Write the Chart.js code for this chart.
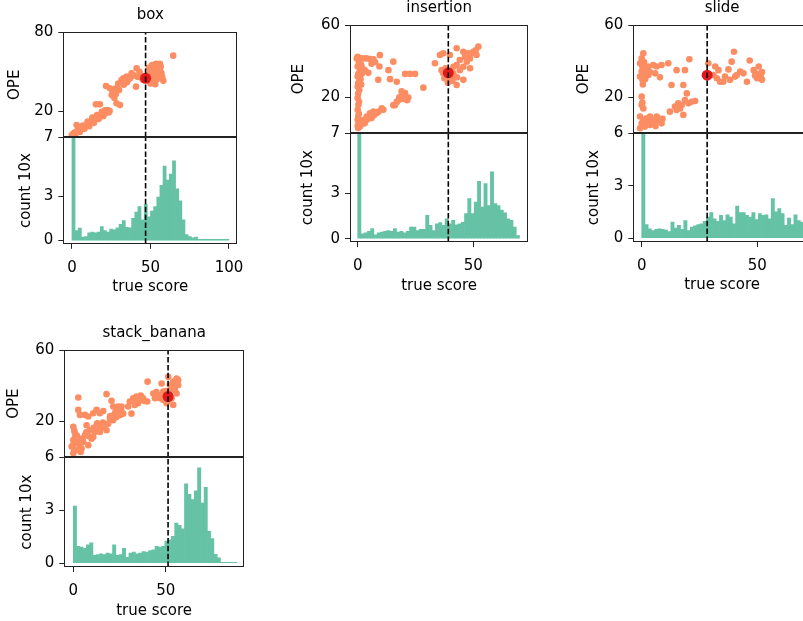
<!DOCTYPE html>
<html><head><meta charset="utf-8">
<script src="https://cdn.jsdelivr.net/npm/chart.js@4.4.1/dist/chart.umd.min.js"></script>
<style>
html,body{margin:0;padding:0;background:#fff;}
#wrap{position:relative;width:803px;height:621px;overflow:hidden;background:#fff;}
canvas{position:absolute;}
</style></head><body><div id="wrap"></div>
<script>
// ---------------- DATA ----------------
const panelTitles = ['box', 'insertion', 'slide', 'stack_banana'];

// scatter points [true score, OPE]
const boxPoints = [[0,1.5],[0.5,2.5],[1,2],[1.5,3.5],[2,3],[2.5,4],[3,4.5],[3.5,4],[4,5],[4.5,5.5],[5,6],[5.5,5.5],[6,6.5],[6.5,7],[7,7.5],[7.5,7],[8,8.5],[8.5,8],[9,9],[9.5,9.5],[10,10],[10.5,9.5],[11,10.5],[11.5,11],[12,11.5],[12.5,12],[13,12.5],[13.5,13],[14,12.5],[14.5,13.5],[15,14],[15.5,14.5],[16,15],[16.5,14.5],[17,15.5],[17.5,16],[18,16.5],[18.5,17],[19,17.5],[19.5,17],[20,18],[20.5,18.5],[21,19],[21.5,18.5],[22,19.5],[22.5,20],[23,20.5],[24,20],[23.5,19],
[5,4],[8,6.5],[11,8.5],[14,11],[17,14],[20,16],[7,9],[10,12],[13,15],[16,17],[19,19.5],[21,20.5],[3,9.3],[1,1],[2,1.5],
[15.3,25.1],[17.8,25.1],[25.3,32.2],[21.7,39],[24.2,37.3],[28.4,25.9],[30.6,24.6],[27,30],[29.5,41],[31.6,43.7],[32.7,45],[34.8,46.2],[36,44],[38,48.8],[39.5,47],[41.2,52.6],[40.8,38.6],[43,50],[44,47],[26,35],[28,33],[30,36],[33,40],[35,42],[37,45],[42,46],[45,44],[29,38],[27.5,37],
[48.6,45],[49,48],[50,50],[50.5,43],[51,52],[51.5,47],[52,54],[52.5,49],[53,51],[53.5,56],[54,53],[54.5,48],[55,55],[55.5,50],[56,52],[56.5,54],[57,49],[57.5,46],[58.2,43],[50,41],[52,45],[54,44],[55,46],[53,40.5],[49,53],[51,55],[56,56],[64.5,62.2],[53,47],[55,51],[52,51],[54,50]];
const insertionPoints = [[0,42.4],[-0.4,41.5],[1,41.5],[2.5,41.5],[3.9,41.5],[5.3,41.2],[6.8,41],[9.6,43.3],[0.5,39],[0,37],[1,35],[0.3,33],[0,31.4],[0.8,29.5],[0.2,27.7],[0,25.8],[0.7,24],[0.2,22],[0,19.5],[0.6,17.5],[0.3,15.8],[0,13],[0.5,11],[0.2,9.3],[0,7.5],[0.4,5.6],[0,4],[0.2,2.9],[1.5,38],[2,36],[1.8,33],[1.2,30],[1.5,27],[9.4,37],[4.6,33.5],[3,35],[15.4,39.7],[13.3,35],[14,30],[16.9,28.6],[20.5,32.9],[22.6,32.9],[24.8,32.9],[8.9,29.6],[28.4,25.3],[6,38.5],[7.5,39.5],
[1,3.7],[2.5,7.4],[3.9,9.3],[5.3,11.1],[6.8,12],[8.2,11.1],[10.4,13.9],[11.1,13],[2,6],[3,5.5],[4.5,8],[5.8,9.5],[7,10],[1.5,5],[3.5,7],[6,8.5],[9,12],
[15.4,15.6],[16.9,17.4],[18.3,19.2],[19.7,21.1],[20.5,22.3],[21.4,18.3],[21.9,19.8],[17.6,18.3],[16.1,15.6],[19,23.2],[18,20],[20,19],
[35.6,43.4],[33.4,38.8],[37,44.3],[39.9,43.4],[42.8,47.1],[45.7,45.2],[47.8,44.3],[50,45.2],[52.2,48],[51.4,43.4],[44.2,40.6],[47.2,39.7],[48.6,36],[45.7,36.9],[42.8,37.8],[41.4,33.2],[37,33.2],[36.3,35],[39.9,30.5],[42.8,26.8],[45.7,29.6],[41.4,36.9],[44.2,35],[48.6,41.5],[46.4,42.4],[38,36],[40.5,31],[43,31],[39,28],[37.5,30.5],[41,29],[49.5,44.5],[51,46]];
const slidePoints = [[0.7,44.3],[0,41.5],[-0.7,38.8],[0.3,37],[0,34.2],[-0.7,31.4],[0.3,29.6],[1.4,33.2],[2.9,37],[5,37.8],[6.5,37],[8.6,37.8],[2.9,32.3],[5.8,33.2],[7.9,31],[11.5,38.8],[15.1,35],[18.7,35],[20.6,41],[12.9,26.8],[18,26.8],[19.5,22.1],[1,36],[1.5,30],[0.5,27],[2,35],[3.5,34],[1,39.5],
[0,20.3],[0,15.7],[0.7,13.8],[-0.7,9.3],[0,5.5],[-0.7,2.8],[0.3,17],
[0.7,7.4],[2.2,8.3],[3.6,9.3],[5,7.4],[6.5,9.3],[7.9,7.4],[8.6,5.5],[3.6,4.6],[1.4,3.7],[5.8,5.5],[7.2,8.3],[2.5,6],[4.5,6.5],[6,4],[9,8],
[12.2,12],[14.4,14.8],[15.8,16.6],[17.3,15.7],[18.7,18.4],[20.2,16.6],[21.6,17.5],[23.1,17.9],[18,10.2],[15.1,12.9],[16.6,13.8],
[28.8,38.8],[31,32.3],[33.2,35],[33.9,28.6],[36,31.4],[37.5,35.4],[38.2,29.6],[38.9,39.7],[39.9,45.2],[40.4,31.4],[42.6,34.2],[44,33.2],[45.5,28.6],[46.7,40.3],[48.4,35],[49.9,30.5],[51.3,32.3],[50.6,37],[52,29.6],[32.5,30.5],[35.3,28.6],[41.1,32.3],[31.8,37],[50,33],[51.5,31],[49,32],[52,34]];
const stackPoints = [[2.7,33.4],[0,17.1],[0.9,13.4],[0,9.7],[-0.9,6],[0,2.3],[1.8,4.1],[0.5,15],[1,11],[0,7],[0.5,4],
[2.7,26.5],[3.6,23.7],[6.3,23.7],[8.1,22.8],[10.8,24.6],[12.6,26.5],[14.4,24.6],[16.2,25.9],[18,35.3],[20.7,31.6],[21.6,28.4],[24.3,28.4],[26.1,28.4],
[3.6,6.8],[5.4,8.6],[6.3,12.3],[7.2,17.9],[9,15.1],[9.9,10.4],[11.7,14.2],[13.5,16],[15.3,17],[17.1,17.9],[18.9,18.8],[19.8,21.6],[21.6,20.7],[23.4,22.5],[25.2,23.5],[27,24.4],[24.3,25.3],[22.5,24.4],[18,15.1],[14.4,14.2],[10.8,11.4],[8.1,6.8],[4.5,4.9],[2.7,8.6],[12.6,17.9],[2,12],[3,10],[5,10.5],[7,14],[8,12],[11,16.5],[13,19],[16,19.5],[20,23],[23,26],[26,26],[1.5,8],[4,3],
[29.7,28.4],[30.6,31.2],[32.4,33],[34.2,34],[36,32.1],[37.8,33],[40,31.2],[31.5,24.4],[33.3,29.3],[35.1,30.2],[40.2,42.3],[33,31],[36.5,34.5],[38.5,31.5],
[43.3,35.7],[46,34.8],[47.8,41.3],[48.7,32.1],[51.4,45],[52.3,40.4],[54.1,42.3],[55.9,44.1],[56.8,40.4],[55,37.6],[53.2,33],[54.1,29.3],[50.5,30.2],[46.9,33],[56.8,43.2],[55.9,35.7],[44.2,33],[48.7,36.7],[50,37],[52,36],[53,38.5],[49,34],[45,36.5],[54.5,39.5],[51.5,32]];

// mean marker [true score, OPE]
const boxMarker = [46.9, 45];
const insertionMarker = [39.2, 33.5];
const slideMarker = [28.3, 32.2];
const stackMarker = [51.3, 34];

// histogram counts (x10) and their true-score ranges
const boxHist = [9,0.68,0.84,0.23,0.27,0.52,0.57,0.52,0.57,0.95,0.68,0.57,0.77,0.73,0.86,1.1,1.36,0.9,0.86,1.5,1.93,2.3,1.4,2.45,1.6,2.0,2.3,2.95,3.75,5.05,4.1,4.5,5.4,3.5,2.7,1.4,0.4,0.27,0.18,0.23,0.08,0.08,0.08,0.08,0.08,0.08,0.08,0.08,0.08,0.08];
const insertionHist = [8,0.33,0.4,0.5,0.67,0.27,0.4,0.44,0.5,0.55,0.5,0.67,0.44,0.5,0.4,0.5,0.78,0.78,0.55,0.62,0.62,1.55,0.9,0.55,1.0,1.07,0.9,1.33,1.0,1.22,0.93,1.0,1.1,1.67,2.67,1.67,2.44,3.82,2.1,3.67,2.2,4.44,2.33,2.2,1.9,1.73,1.33,1.22,0.78,0.22];
const slideHist = [10,0.77,0.54,0.44,0.5,0.54,0.5,0.46,0.38,0.92,0.57,0.73,0.5,1.0,0.44,0.63,0.7,0.77,0.82,0.96,1.2,1.46,1.11,0.96,1.3,1.0,1.34,1.2,0.82,1.84,1.46,1.46,1.3,1.2,1.46,1.07,1.4,1.3,1.34,1.11,2.26,1.5,1.69,1.4,0.73,1.15,0.77,1.34,1.0,0.92];
const stackHist = [3.23,0.95,0.91,0.85,1.04,1.16,0.44,0.49,0.53,0.49,0.57,0.53,1.04,0.44,0.49,0.85,0.34,0.57,0.63,0.53,0.57,0.66,0.63,0.72,0.76,0.95,0.91,0.95,1.25,1.33,1.52,2.28,2.14,1.95,4.5,3.9,3.6,4.1,5.4,3.4,4.3,1.8,1.4,0.5,0.3,0.05,0.05,0.05,0.05,0.05];
const boxHistRange = [0, 100];
const insertionHistRange = [0, 70];
const slideHistRange = [0, 70];
const stackHistRange = [0, 88.5];

// tick labels
const boxTopTicks = [20, 80];
const otherTopTicks = [20, 60];
const boxBotTicks = [0, 3, 7];
const insertionBotTicks = [0, 3, 7];
const sixBotTicks = [0, 3, 6];
const boxXTicks = [0, 50, 100];
const otherXTicks = [0, 50];

// ---------------- LAYOUT ----------------
const panels = [
  {title: panelTitles[0], points: boxPoints, marker: boxMarker, hist: boxHist, range: boxHistRange,
   topTicks: boxTopTicks, botTicks: boxBotTicks, xTicks: boxXTicks,
   yTop: [0, 80], yBot: [-0.22, 7], x: [-5.5, 105.3],
   L: 63.3, R: 237.3, T: 32.3, M: 137.3, B: 243.3, opeX: 15, cntX: 25.7},
  {title: panelTitles[1], points: insertionPoints, marker: insertionMarker, hist: insertionHist, range: insertionHistRange,
   topTicks: otherTopTicks, botTicks: insertionBotTicks, xTicks: otherXTicks,
   yTop: [0, 60], yBot: [-0.22, 7], x: [-3.33, 73.8],
   L: 350, R: 528.3, T: 25, M: 133.3, B: 241.6, opeX: 299.5, cntX: 308.3},
  {title: panelTitles[2], points: slidePoints, marker: slideMarker, hist: slideHist, range: slideHistRange,
   topTicks: otherTopTicks, botTicks: sixBotTicks, xTicks: otherXTicks,
   yTop: [0, 60], yBot: [-0.22, 6], x: [-3.63, 73.2],
   L: 633.3, R: 811, T: 25, M: 133.3, B: 241.5, opeX: 583.7, cntX: 594.3},
  {title: panelTitles[3], points: stackPoints, marker: stackMarker, hist: stackHist, range: stackHistRange,
   topTicks: otherTopTicks, botTicks: sixBotTicks, xTicks: otherXTicks,
   yTop: [0, 60], yBot: [-0.22, 6], x: [-4.87, 92.4],
   L: 64.3, R: 244, T: 350, M: 457.3, B: 566.6, opeX: 14, cntX: 26.7}
];

Chart.defaults.font.family = "'DejaVu Sans', sans-serif";
Chart.defaults.font.size = 15;
Chart.defaults.color = '#000';

const framePlugin = {
  id: 'frame',
  afterDatasetsDraw(chart) {
    const {ctx, chartArea: a} = chart;
    ctx.save();
    ctx.strokeStyle = '#222';
    ctx.lineWidth = 1;
    const l = Math.round(a.left) + 0.5, r = Math.round(a.right) - 0.5;
    const t = Math.round(a.top) + 0.5, b = Math.round(a.bottom) - 0.5;
    ctx.strokeRect(l, t, r - l, b - t);
    ctx.restore();
  }
};

function makeCanvas(left, top, w, h) {
  const c = document.createElement('canvas');
  c.width = w; c.height = h;
  c.style.left = left + 'px'; c.style.top = top + 'px';
  c.style.width = w + 'px'; c.style.height = h + 'px';
  document.getElementById('wrap').appendChild(c);
  return c;
}

const gridOpts = {drawOnChartArea: false, drawTicks: true, tickLength: 5, color: '#222', lineWidth: 1};

function buildPanel(p) {
  const cl = Math.floor(p.L - 62);
  const xv = p.marker[0];
  const dash = {type: 'line', borderColor: '#000', borderWidth: 1.6, borderDash: [5.5, 2.4],
                pointRadius: 0, fill: false, order: 0, clip: 0};

  // ---- scatter (top) ----
  const sTop = Math.floor(p.T - 29.7);
  const sBot = Math.ceil(p.M + 30);
  const sRight = Math.ceil(p.R + 16);
  const c1 = makeCanvas(cl, sTop, sRight - cl, sBot - sTop);
  const sPadL = p.opeX - 9 - cl;
  const yW1 = p.L - cl - sPadL;
  new Chart(c1, {
    type: 'scatter',
    data: {datasets: [
      Object.assign({data: [{x: xv, y: p.yTop[0]}, {x: xv, y: p.yTop[1]}]}, dash),
      {data: [{x: xv, y: p.marker[1]}], backgroundColor: '#e31a1c', borderWidth: 0, pointRadius: 5.5, order: 1, clip: 0},
      {data: p.points.map(q => ({x: q[0], y: q[1]})), backgroundColor: '#fc8d62', borderWidth: 0, pointRadius: 3.3, order: 2, clip: 0}
    ]},
    options: {
      responsive: false, animation: false, devicePixelRatio: 1, events: [],
      layout: {padding: {left: sPadL, top: (p.T - 29.7) - sTop, right: sRight - p.R, bottom: sBot - p.M}},
      plugins: {
        legend: {display: false}, tooltip: {enabled: false},
        title: {display: true, text: p.title, fullSize: false, color: '#000',
                font: {size: 15, weight: 'normal'}, padding: {top: 4, bottom: 7.7}}
      },
      scales: {
        x: {type: 'linear', display: false, min: p.x[0], max: p.x[1]},
        y: {type: 'linear', min: p.yTop[0], max: p.yTop[1],
            afterBuildTicks: s => { s.ticks = p.topTicks.map(v => ({value: v})); },
            afterFit: s => { s.width = yW1; },
            grid: gridOpts, border: {display: false},
            ticks: {padding: 5, color: '#000', font: {size: 15}},
            title: {display: true, text: 'OPE', color: '#000', font: {size: 15}, padding: 0}}
      }
    },
    plugins: [framePlugin]
  });

  // ---- histogram (bottom) ----
  const hTop = Math.floor(p.M - 25);
  const hBot = Math.ceil(p.B + 52.5);
  const hRight = Math.ceil(p.R + 22);
  const c2 = makeCanvas(cl, hTop, hRight - cl, hBot - hTop);
  const hPadL = p.cntX - 9 - cl;
  const yW2 = p.L - cl - hPadL;
  const bw = (p.range[1] - p.range[0]) / p.hist.length;
  new Chart(c2, {
    type: 'bar',
    data: {datasets: [
      Object.assign({data: [{x: xv, y: p.yBot[0]}, {x: xv, y: p.yBot[1]}]}, dash),
      {type: 'bar', data: p.hist.map((h, i) => ({x: p.range[0] + (i + 0.5) * bw, y: h})),
       backgroundColor: '#66c2a5', borderWidth: 0, barPercentage: 1, categoryPercentage: 1, order: 1, clip: 0}
    ]},
    options: {
      responsive: false, animation: false, devicePixelRatio: 1, events: [],
      layout: {padding: {left: hPadL, top: p.M - hTop, right: hRight - p.R, bottom: 0}},
      plugins: {legend: {display: false}, tooltip: {enabled: false}},
      scales: {
        x: {type: 'linear', min: p.x[0], max: p.x[1], offset: false,
            afterBuildTicks: s => { s.ticks = p.xTicks.map(v => ({value: v})); },
            afterFit: s => { s.height = (hBot - p.B) - 0.5; },
            grid: Object.assign({offset: false}, gridOpts), border: {display: false},
            ticks: {padding: 10, autoSkip: false, maxRotation: 0, color: '#000', font: {size: 15}},
            title: {display: true, text: 'true score', color: '#000', font: {size: 15}, padding: 0}},
        y: {type: 'linear', min: p.yBot[0], max: p.yBot[1],
            afterBuildTicks: s => { s.ticks = p.botTicks.map(v => ({value: v})); },
            afterFit: s => { s.width = yW2; },
            grid: gridOpts, border: {display: false},
            ticks: {padding: 5, color: '#000', font: {size: 15}},
            title: {display: true, text: 'count 10x', color: '#000', font: {size: 15}, padding: 0}}
      }
    },
    plugins: [framePlugin]
  });
}

panels.forEach(buildPanel);
</script>
</body></html>
